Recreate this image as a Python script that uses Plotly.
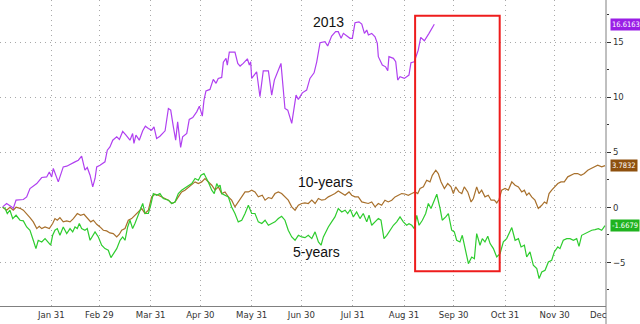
import pandas as pd
import plotly.graph_objects as go

# ---------------- data (days counted from 2011-12-31) ----------------
p_days = [1.6, 4.0, 7.1, 8.0, 9.7, 14.1, 16.1, 18.1, 22.2, 25.2,
          28.2, 29.8, 31.2, 32.2, 35.2, 37.3, 38.2, 40.3, 42.3, 45.3,
          47.3, 49.3, 51.3, 52.7, 54.4, 56.0, 57.4, 58.4, 60.4, 63.4,
          64.8, 66.4, 68.1, 70.5, 72.1, 74.1, 76.1, 78.5, 80.1, 80.9,
          82.1, 84.1, 86.2, 87.8, 89.6, 91.6, 93.0, 94.6, 96.6, 99.7,
          101.7, 103.1, 104.7, 106.1, 107.3, 109.1, 110.3, 112.8, 114.3, 116.4,
          118.8, 120.4, 122.2, 123.2, 124.4, 126.8, 128.8, 130.5, 131.8, 133.9,
          134.9, 136.5, 137.3, 138.5, 141.9, 143.6, 145.0, 146.9, 149.4, 150.6,
          151.4, 152.0, 155.0, 157.0, 159.0, 162.1, 164.1, 165.7, 169.7, 172.1,
          173.8, 176.2, 178.8, 180.2, 182.6, 185.2, 187.2, 189.7, 191.3, 193.3,
          196.3, 197.9, 200.3, 202.7, 204.3, 206.0, 207.4, 209.4, 211.4, 212.8,
          214.4, 216.8, 218.5, 220.1, 221.5, 222.5, 224.5, 226.5, 227.9, 228.5,
          230.9, 232.9, 234.2, 234.9, 237.6, 239.0, 240.2, 241.6, 244.2, 247.0,
          248.2, 250.2, 252.6, 254.1, 256.3, 259.1, 261.1, 262.3]
p_vals = [0.03, 0.34, 0.03, -0.12, 0.64, 0.70, 0.94, 1.70, 2.15, 2.70,
          2.75, 3.20, 2.75, 3.52, 2.30, 3.36, 3.66, 3.73, 3.91, 4.12,
          4.27, 4.64, 3.36, 3.61, 2.91, 1.85, 2.61, 3.66, 3.82, 4.12,
          5.18, 5.48, 6.09, 6.39, 6.15, 6.88, 6.55, 6.09, 6.70, 5.79,
          6.55, 6.09, 6.94, 7.36, 7.15, 7.00, 7.30, 6.25, 6.45, 6.94,
          8.97, 8.82, 7.30, 6.09, 7.75, 5.43, 6.39, 6.70, 7.97, 8.15,
          8.66, 9.18, 8.27, 9.73, 10.57, 10.70, 11.61, 11.25, 11.70, 11.79,
          13.18, 13.52, 12.91, 14.09, 14.09, 13.06, 12.82, 13.06, 13.48, 12.91,
          13.21, 11.70, 12.30, 10.03, 12.39, 12.39, 10.18, 11.55, 13.06, 8.97,
          8.82, 7.61, 10.18, 9.79, 10.39, 10.64, 11.70, 12.21, 13.21, 14.94,
          15.03, 14.64, 15.55, 15.94, 15.94, 15.34, 15.79, 15.55, 15.34, 15.34,
          16.75, 16.84, 16.64, 15.79, 16.09, 15.64, 15.79, 15.48, 14.88, 13.67,
          12.91, 12.75, 12.39, 13.67, 13.52, 13.21, 11.55, 11.85, 11.70, 12.00,
          13.12, 13.21, 14.27, 15.43, 15.12, 15.79, 16.39, 16.6163]

t10_days = [1.6, 4.0, 6.0, 8.0, 9.7, 12.1, 14.1, 16.1, 18.1, 20.1,
            22.2, 23.7, 25.2, 27.2, 29.8, 31.8, 33.2, 34.6, 36.2, 38.2,
            40.3, 42.3, 44.3, 46.7, 48.7, 50.7, 52.7, 54.8, 56.4, 58.4,
            60.4, 62.4, 64.4, 66.4, 68.4, 70.5, 72.1, 73.5, 75.5, 77.5,
            79.5, 81.5, 83.5, 85.6, 87.6, 89.6, 91.6, 93.6, 95.6, 97.7,
            99.7, 101.7, 103.7, 105.7, 107.7, 109.7, 111.7, 113.7, 115.8, 117.8,
            119.8, 121.8, 123.8, 125.8, 127.9, 129.9, 131.9, 133.9, 135.9, 137.9,
            139.9, 141.9, 143.9, 146.0, 148.0, 150.0, 152.0, 154.0, 156.0, 158.4,
            160.1, 162.1, 164.1, 166.1, 168.1, 170.1, 172.1, 174.1, 176.2, 178.2,
            180.2, 182.2, 184.2, 186.2, 188.3, 190.3, 192.3, 194.3, 196.3, 198.3,
            200.3, 202.3, 204.3, 206.4, 208.4, 210.8, 212.4, 214.4, 216.4, 218.5,
            220.5, 222.4, 224.5, 226.5, 228.5, 230.5, 232.5, 234.5, 236.6, 238.6,
            240.6, 242.6, 244.6, 246.6, 248.7, 250.7, 252.3, 253.7, 255.7, 257.7,
            259.7, 261.1, 263.2, 264.7, 266.4, 268.4, 270.4, 272.4, 273.8, 275.2,
            277.2, 278.9, 280.4, 282.5, 284.5, 285.9, 287.9, 289.3, 290.9, 292.9,
            294.9, 296.6, 298.6, 300.0, 301.4, 303.0, 305.0, 307.0, 309.1, 311.1,
            313.1, 315.1, 316.7, 318.1, 319.5, 321.1, 323.1, 325.1, 327.2, 328.8,
            330.2, 331.6, 333.2, 335.2, 336.9, 338.8, 340.8, 342.9, 344.9, 346.9,
            348.9, 350.9, 352.9, 355.0, 357.0, 359.0, 361.0, 363.4, 365.4]
t10_vals = [0.0, -0.27, 0.0, -0.27, 0.0, -0.1, -0.27, -0.57, -0.94, -1.33,
            -1.94, -1.73, -1.94, -1.79, -1.94, -1.48, -1.03, -1.18, -0.94, -1.33,
            -1.24, -1.33, -1.03, -0.57, -0.73, -0.64, -0.94, -1.33, -1.18, -1.55,
            -1.79, -2.09, -2.15, -2.33, -2.39, -2.7, -2.45, -2.09, -1.94, -1.18,
            -1.03, -0.73, -0.43, -0.12, -0.57, -0.27, 0.94, 1.18, 1.09, 0.94,
            0.79, 0.64, 0.34, 0.48, 0.94, 1.39, 1.55, 1.79, 2.0, 2.3,
            2.15, 2.3, 2.61, 2.3, 2.0, 1.55, 1.85, 1.24, 1.39, 0.94,
            0.64, 0.03, 0.48, 0.94, 1.39, 1.39, 1.55, 1.39, 0.94, 1.09,
            0.64, 0.88, 0.79, 1.24, 1.39, 1.24, 0.94, 0.64, 0.03, -0.27,
            0.18, 0.34, 0.39, 0.34, 0.64, 0.34, 0.79, 0.64, 0.7, 0.94,
            1.09, 1.24, 1.48, 1.24, 1.09, 1.39, 1.09, 0.94, 0.94, 0.48,
            0.39, 0.34, 0.48, 0.03, 0.34, 0.18, 0.64, 0.48, 0.64, 0.94,
            1.09, 1.24, 1.2, 1.09, 1.24, 1.39, 1.24, 1.7, 1.85, 2.45,
            2.3, 2.9, 3.36, 3.06, 2.3, 1.7, 2.15, 1.85, 1.24, 1.85,
            1.39, 1.24, 1.85, 1.39, 0.48, 0.79, 1.85, 1.24, 1.55, 0.94,
            1.09, 0.64, 0.64, 0.39, 0.7, 1.55, 1.7, 1.55, 2.3, 2.0,
            1.85, 1.39, 1.55, 1.09, 1.3, 0.94, 0.64, -0.12, 0.18, 0.48,
            0.34, 1.24, 1.55, 1.85, 2.15, 2.3, 2.3, 2.76, 2.9, 3.06,
            3.06, 2.9, 3.06, 3.36, 3.52, 3.67, 3.82, 3.67, 3.7832]

t5_days = [1.6, 3.0, 4.4, 6.0, 7.7, 9.7, 12.1, 14.1, 16.1, 18.1,
           20.1, 21.7, 23.1, 25.2, 27.2, 29.2, 30.6, 31.8, 33.2, 34.6,
           36.2, 38.2, 40.3, 42.3, 43.9, 45.3, 46.7, 47.9, 49.3, 51.3,
           52.7, 54.4, 56.0, 57.4, 59.4, 61.4, 63.4, 65.4, 67.0, 68.4,
           70.5, 72.5, 74.1, 75.5, 77.1, 78.5, 80.1, 81.5, 82.9, 84.6,
           86.2, 87.6, 89.6, 91.0, 92.6, 94.6, 96.6, 98.6, 101.7, 103.7,
           105.7, 107.7, 109.7, 112.8, 115.8, 117.8, 119.8, 121.4, 123.2, 125.8,
           127.9, 129.4, 130.9, 131.9, 132.9, 133.9, 135.9, 137.9, 139.9, 141.9,
           143.9, 146.0, 148.0, 150.0, 152.0, 154.0, 156.0, 158.1, 160.1, 162.1,
           164.1, 166.1, 168.1, 170.1, 172.1, 174.1, 176.2, 178.2, 180.2, 182.2,
           184.2, 186.2, 188.3, 190.3, 192.3, 193.9, 195.3, 196.7, 198.3, 200.3,
           202.3, 204.3, 206.4, 208.4, 210.0, 211.6, 213.4, 215.4, 217.4, 219.4,
           221.5, 222.9, 224.5, 226.5, 228.5, 230.1, 231.9, 233.6, 235.6, 237.6,
           239.6, 241.6, 243.6, 245.6, 247.0, 248.7, 250.2, 251.7, 253.1, 255.1,
           257.1, 258.7, 260.3, 261.7, 263.8, 265.8, 267.1, 269.2, 270.8, 272.8,
           274.4, 275.8, 277.8, 279.2, 280.9, 282.9, 284.9, 286.5, 287.9, 289.9,
           291.3, 292.9, 294.6, 296.0, 298.0, 300.0, 302.0, 304.0, 306.0, 309.1,
           311.1, 313.1, 314.7, 316.7, 318.1, 320.1, 322.1, 324.2, 325.6, 327.2,
           329.2, 331.2, 333.2, 334.8, 336.9, 338.2, 340.2, 342.3, 344.3, 346.3,
           348.3, 349.7, 351.3, 353.3, 355.3, 357.4, 359.4, 361.4, 363.4, 365.4]
t5_vals = [0.0, -0.1, -0.57, -0.27, -1.03, -0.73, -1.18, -1.24, -1.79, -2.09,
           -3.0, -3.76, -3.0, -3.15, -2.85, -3.15, -3.45, -2.55, -2.09, -1.94,
           -2.55, -1.79, -2.39, -1.94, -2.24, -1.79, -1.94, -1.48, -1.94, -2.09,
           -1.94, -3.0, -2.55, -2.24, -2.7, -3.45, -3.76, -3.91, -4.58, -4.21,
           -3.76, -3.0, -2.7, -3.0, -1.79, -1.18, -1.94, -1.48, -0.88, -0.27,
           0.34, -0.57, -0.57, 0.18, 1.24, 1.09, 1.24, 0.79, 0.64, 0.34,
           0.48, 1.24, 1.55, 1.85, 2.15, 2.61, 2.45, 2.9, 3.06, 2.3,
           1.55, 1.24, 2.15, 1.85, 2.0, 1.24, 1.09, 0.94, 0.03, -0.57,
           -1.33, -1.18, -0.57, 0.18, -0.57, -0.57, -1.33, -1.48, -1.18, -1.64,
           -1.48, -1.33, -1.03, -0.82, -1.18, -2.09, -2.7, -3.0, -2.55, -2.7,
           -2.76, -2.55, -2.85, -2.24, -3.15, -3.45, -2.7, -2.24, -1.79, -1.33,
           -0.88, -0.12, -0.43, -0.27, -0.57, -0.21, -0.88, -0.43, -1.03, -0.57,
           -1.33, -0.73, -1.64, -1.33, -1.03, -1.18, -2.85, -2.55, -2.09, -1.64,
           -1.33, -0.88, -1.33, -1.64, -1.5, -1.64, -1.94, -0.73, -1.64, -1.18,
           -0.57, 0.34, -0.12, 0.48, 1.18, -0.12, -1.18, -0.88, -0.57, -2.09,
           -2.24, -3.0, -3.15, -2.55, -3.61, -5.12, -4.52, -4.67, -2.39, -3.45,
           -2.85, -3.15, -2.64, -3.3, -3.76, -4.52, -4.21, -3.15, -2.85, -1.85,
           -3.0, -2.85, -3.61, -3.45, -4.52, -4.06, -5.27, -5.58, -6.48, -5.88,
           -5.73, -4.97, -4.82, -4.06, -3.61, -3.76, -3.0, -2.85, -2.85, -3.0,
           -2.85, -3.55, -2.55, -2.39, -2.24, -2.09, -2.03, -1.94, -2.09, -1.6679]

month_ticks = ["2012-01-31", "2012-02-29", "2012-03-31", "2012-04-30", "2012-05-31",
               "2012-06-30", "2012-07-31", "2012-08-31", "2012-09-30", "2012-10-31",
               "2012-11-30"]
month_labels = ["Jan 31", "Feb 29", "Mar 31", "Apr 30", "May 31", "Jun 30",
                "Jul 31", "Aug 31", "Sep 30", "Oct 31", "Nov 30"]
y_ticks = [-5, 0, 5, 10, 15]

assert len(p_days) == len(p_vals)
assert len(t10_days) == len(t10_vals)
assert len(t5_days) == len(t5_vals)

BASE = pd.Timestamp("2011-12-31")
X_END = pd.Timestamp("2012-12-31")


def to_dates(days):
    return BASE + pd.to_timedelta(days, unit="D")


PURPLE_LINE = "#b040f0"
PURPLE_BOX = "#9a1ee6"
BROWN_LINE = "#a8702c"
BROWN_BOX = "#8e500e"
GREEN_LINE = "#2ecc2e"
GREEN_BOX = "#1fb31f"
NARROW = "Liberation Sans Narrow, DejaVu Sans Condensed, Arial Narrow, sans-serif"
GRID = "#a8a8a8"

fig = go.Figure()
series = [
    (t10_days, t10_vals, BROWN_LINE, BROWN_BOX),
    (t5_days, t5_vals, GREEN_LINE, GREEN_BOX),
    (p_days, p_vals, PURPLE_LINE, PURPLE_BOX),
]
for days, vals, lc, bc in series:
    fig.add_trace(go.Scatter(x=to_dates(days), y=vals, mode="lines",
                             line=dict(color=lc, width=1.2), hoverinfo="skip"))

# pointer triangles of the last-value flags (drawn just right of the axis)
pointer_x = X_END + pd.Timedelta(days=3.6)
fig.add_trace(go.Scatter(
    x=[pointer_x] * 3, y=[s[1][-1] for s in series], mode="markers",
    marker=dict(symbol="triangle-left", size=9, color=[s[3] for s in series],
                line=dict(width=0)),
    cliponaxis=False, hoverinfo="skip"))

annotations = []
for days, vals, lc, bc in series:
    last = vals[-1]
    annotations.append(dict(xref="paper", yref="y", x=1, y=last, xanchor="left",
                            xshift=4, text=f"{last:.4f}", showarrow=False,
                            bgcolor=bc, borderpad=1,
                            font=dict(family=NARROW, size=7.5, color="white")))

annotations += [
    dict(x=to_dates([198.4])[0], y=16.8, text="2013", showarrow=False,
         font=dict(family="Liberation Sans, Arial", size=14, color="#111")),
    dict(x=to_dates([196.5])[0], y=2.3, text="10-years", showarrow=False,
         font=dict(family="Liberation Sans, Arial", size=14, color="#111")),
    dict(x=to_dates([191.3])[0], y=-4.06, text="5-years", showarrow=False,
         font=dict(family="Liberation Sans, Arial", size=14, color="#111")),
    dict(xref="paper", yref="paper", x=1, y=0, xanchor="right", yanchor="top",
         xshift=3, yshift=-1, text="Dec", showarrow=False,
         font=dict(family=NARROW, size=9.5, color="#333")),
]

shapes = [
    dict(type="rect", xref="x", yref="y",
         x0="2012-09-06 17:00", x1="2012-10-27 19:00", y0=-5.82, y1=17.39,
         line=dict(color="#ee1c1c", width=2), fillcolor="rgba(0,0,0,0)"),
    dict(type="line", xref="paper", yref="paper", x0=1, x1=1, y0=-0.07, y1=1,
         line=dict(color="#808080", width=1)),
]

fig.update_layout(
    width=640, height=324,
    margin=dict(l=0, r=34, t=0, b=18),
    paper_bgcolor="white", plot_bgcolor="white",
    showlegend=False,
    annotations=annotations,
    shapes=shapes,
    xaxis=dict(
        range=[BASE, X_END],
        tickmode="array", tickvals=month_ticks, ticktext=month_labels,
        showgrid=True, gridcolor=GRID, griddash="1px,4px", gridwidth=1,
        ticks="", showline=True, linecolor="#808080", linewidth=1,
        zeroline=False,
        tickfont=dict(family=NARROW, size=9.5, color="#333"),
    ),
    yaxis=dict(
        side="right", range=[-8.97, 18.82],
        tickmode="array", tickvals=y_ticks,
        showgrid=True, gridcolor=GRID, griddash="1px,4px", gridwidth=1,
        ticks="outside", ticklen=4, tickwidth=1, tickcolor="#333",
        showline=False, zeroline=False,
        minor=dict(tickmode="linear", tick0=0, dtick=2.5, ticks="outside",
                   ticklen=2, tickcolor="#333", showgrid=False),
        tickfont=dict(family=NARROW, size=9.5, color="#333"),
    ),
)

fig.write_html("out.html")
